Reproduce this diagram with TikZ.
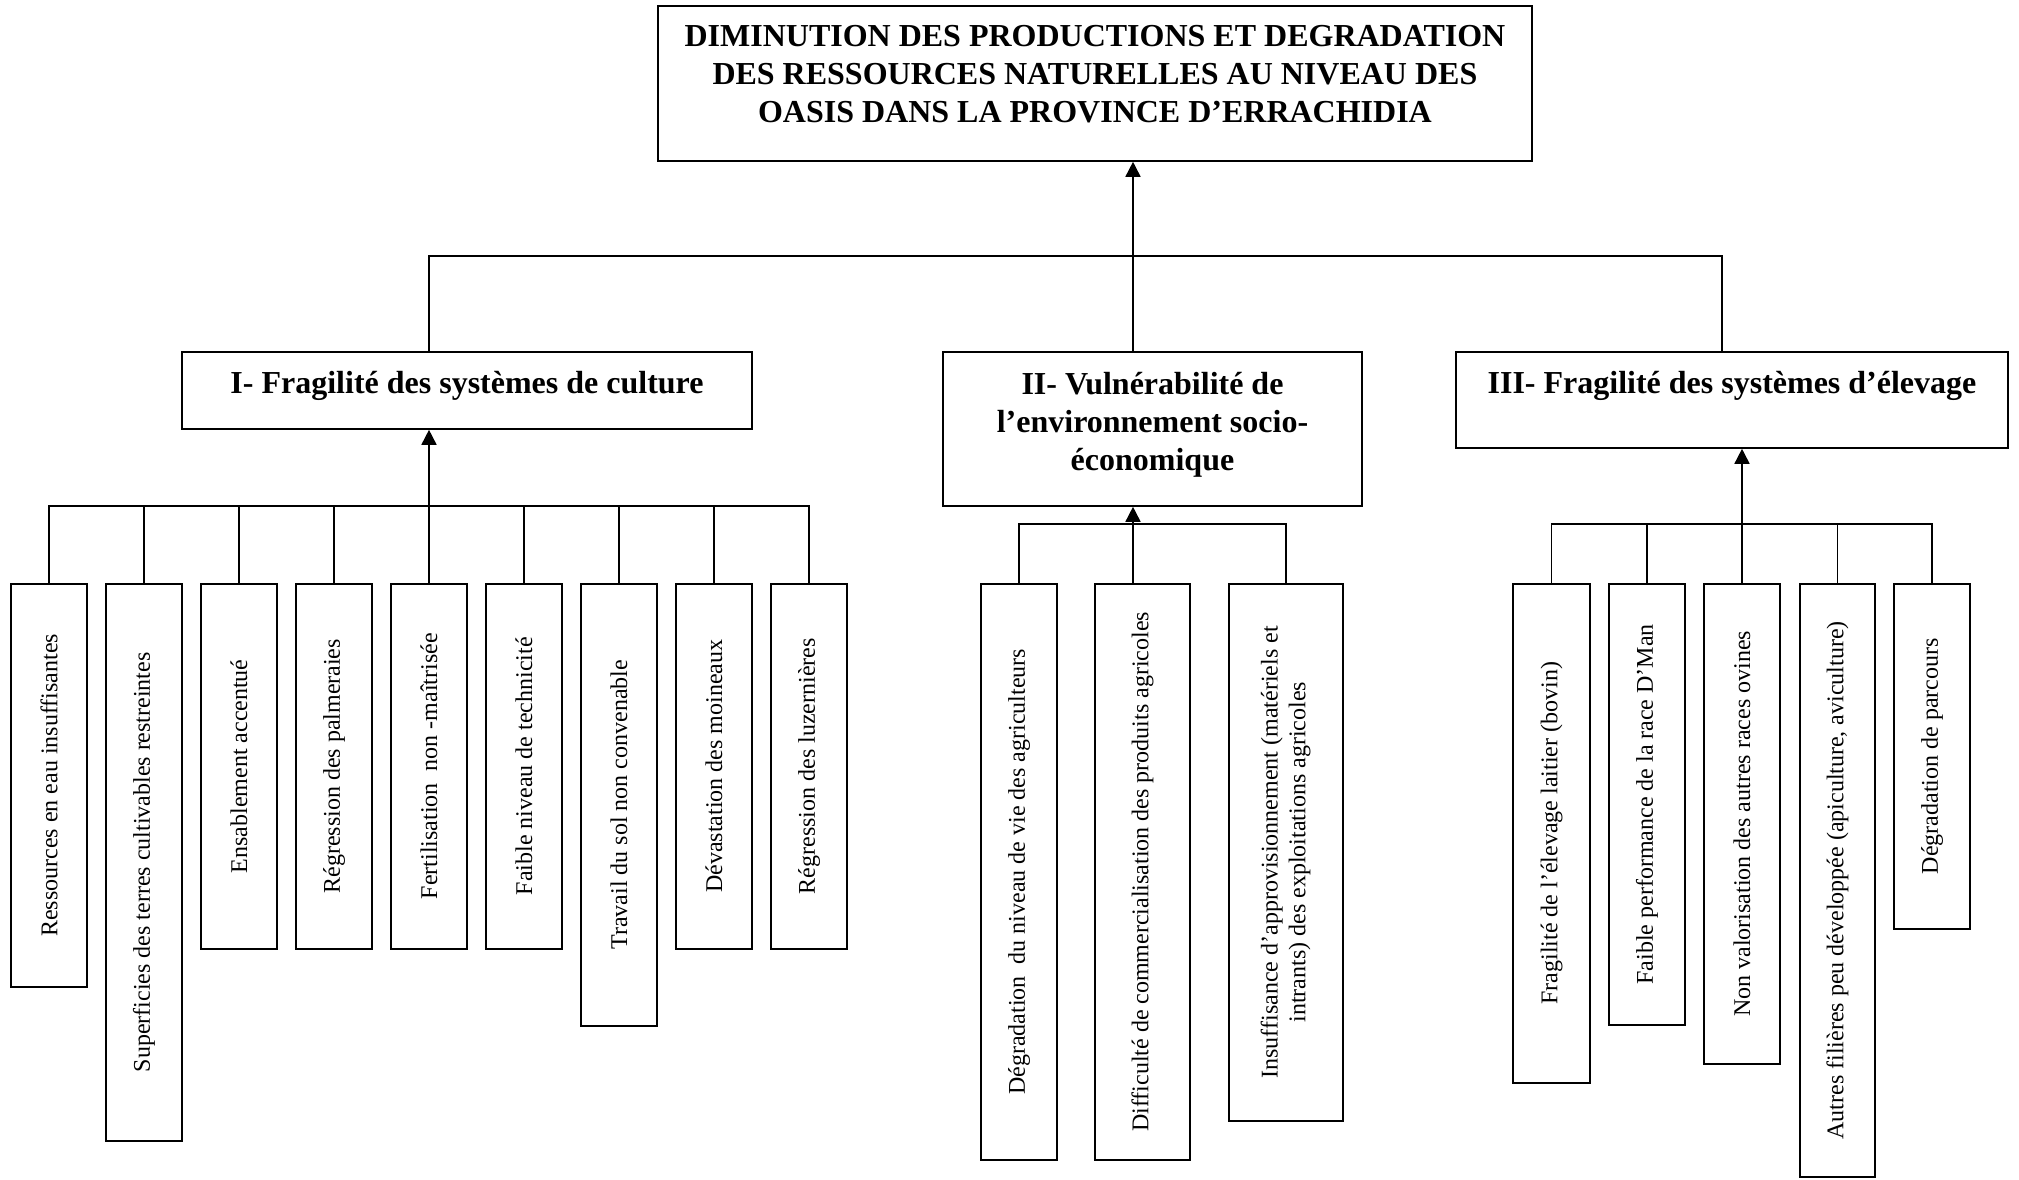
\documentclass[tikz,border=0pt]{standalone}
\usepackage{fontspec}
\setmainfont{Liberation Serif}
\usepackage{graphicx}
\usetikzlibrary{arrows.meta}

% header text: width, total height, first-baseline depth, lines
\newcommand\headtext[4]{\parbox[c][#2][t]{#1}{\centering\rule{0pt}{#3}#4}}
% vertical text reading bottom to top
\newcommand\leaftext[1]{\rotatebox{90}{#1}}

\begin{document}
\begin{tikzpicture}[x=0.5pt,y=-0.5pt,
  wire/.style={line width=0.8pt},
  arr/.style={line width=0.8pt,-{Triangle[length=7.5pt,width=7.5pt]}},
  head/.style={draw,line width=0.8pt,inner sep=0pt,font=\fontsize{16}{19}\selectfont\bfseries},
  leaf/.style={draw,line width=0.8pt,inner sep=0pt,anchor=north,font=\fontsize{12}{13.8}\selectfont},
]
\fill[white] (0,0) rectangle (2019,1179);
\useasboundingbox (0,0) rectangle (2019,1179);

% ---- main problem ----
\node[head,minimum width=437pt,minimum height=77.5pt] (top) at (1095,83.5)
  {\headtext{437pt}{77.5pt}{20pt}{DIMINUTION DES PRODUCTIONS ET DEGRADATION\\
   DES RESSOURCES NATURELLES AU NIVEAU DES\\
   OASIS DANS LA PROVINCE D’ERRACHIDIA}};

% ---- three causes ----
\node[head,minimum width=285pt,minimum height=38.5pt] (I) at (467,390.5)
  {\headtext{285pt}{38.5pt}{20.5pt}{I- Fragilité des systèmes de culture}};
\node[head,minimum width=209.5pt,minimum height=77pt] (II) at (1152.5,429)
  {\headtext{209.5pt}{77pt}{21pt}{II- Vulnérabilité de\\ l’environnement socio-\\ économique}};
\node[head,minimum width=276pt,minimum height=48pt] (III) at (1732,400)
  {\headtext{276pt}{48pt}{20.5pt}{III- Fragilité des systèmes d’élevage}};

% ---- cropping systems ----
\node[leaf,minimum width=38pt,minimum height=201.5pt] (L1) at (49,583) {\leaftext{Ressources en eau insuffisantes}};
\node[leaf,minimum width=38pt,minimum height=278.5pt] (L2) at (144,583) {\leaftext{Superficies des terres cultivables restreintes}};
\node[leaf,minimum width=38pt,minimum height=182.5pt] (L3) at (239,583) {\leaftext{Ensablement accentué}};
\node[leaf,minimum width=38pt,minimum height=182.5pt] (L4) at (334,583) {\leaftext{Régression des palmeraies}};
\node[leaf,minimum width=38pt,minimum height=182.5pt] (L5) at (429,583) {\leaftext{Fertilisation\ \ non -maîtrisée}};
\node[leaf,minimum width=38pt,minimum height=182.5pt] (L6) at (524,583) {\leaftext{Faible niveau de technicité}};
\node[leaf,minimum width=38pt,minimum height=221pt] (L7) at (619,583) {\leaftext{Travail du sol non convenable}};
\node[leaf,minimum width=38pt,minimum height=182.5pt] (L8) at (714,583) {\leaftext{Dévastation des moineaux}};
\node[leaf,minimum width=38pt,minimum height=182.5pt] (L9) at (809,583) {\leaftext{Régression des luzernières}};

% ---- socio-economic environment ----
\node[leaf,minimum width=38pt,minimum height=288pt] (M1) at (1019,583) {\leaftext{Dégradation\ \ du niveau de vie des agriculteurs}};
\node[leaf,minimum width=47.5pt,minimum height=288pt] (M2) at (1142.5,583) {\leaftext{Difficulté de commercialisation des produits agricoles}};
\node[leaf,minimum width=57pt,minimum height=268.5pt] (M3) at (1286,583)
  {\leaftext{\begin{tabular}{@{}c@{}}Insuffisance d’approvisionnement (matériels et\\ intrants) des exploitations agricoles\end{tabular}}};

% ---- livestock systems ----
\node[leaf,minimum width=38.5pt,minimum height=249.5pt] (R1) at (1551.5,583) {\leaftext{Fragilité de l’élevage laitier (bovin)}};
\node[leaf,minimum width=38pt,minimum height=220.5pt] (R2) at (1647,583) {\leaftext{Faible performance de la race D’Man}};
\node[leaf,minimum width=38pt,minimum height=240pt] (R3) at (1742,583) {\leaftext{Non valorisation des autres races ovines}};
\node[leaf,minimum width=37.5pt,minimum height=296.5pt] (R4) at (1837.5,583) {\leaftext{Autres filières peu développée (apiculture, aviculture)}};
\node[leaf,minimum width=38pt,minimum height=172.5pt] (R5) at (1932,583) {\leaftext{Dégradation de parcours}};

% ---- junction points ----
\coordinate (jL) at (429,256);
\coordinate (jM) at (1133,256);
\coordinate (jR) at (1722,256);
\coordinate (bL) at (429,506);
\coordinate (bM) at (1133,524);
\coordinate (bR) at (1742,524);

% ---- causes to main problem ----
\draw[wire] (I.north -| jL) |- (jR) -- (III.north -| jR);
\draw[arr] (II.north -| jM) -- (top.south -| jM);

% ---- cropping systems tree ----
\draw[wire] (L1.north) |- (bL) -| (L9.north);
\foreach \n in {2,...,8} \draw[wire] (L\n.north) -- (L\n.north |- bL);
\draw[arr] (bL) -- (I.south -| bL);

% ---- socio-economic tree ----
\draw[wire] (M1.north) |- (bM) -| (M3.north);
\draw[wire] (M2.north -| bM) -- (bM);
\draw[arr] (bM) -- (II.south -| bM);

% ---- livestock tree ----
\draw[wire] (R1.north) |- (bR) -| (R5.north);
\foreach \n in {2,3,4} \draw[wire] (R\n.north) -- (R\n.north |- bR);
\draw[arr] (bR) -- (III.south -| bR);
\end{tikzpicture}
\end{document}
